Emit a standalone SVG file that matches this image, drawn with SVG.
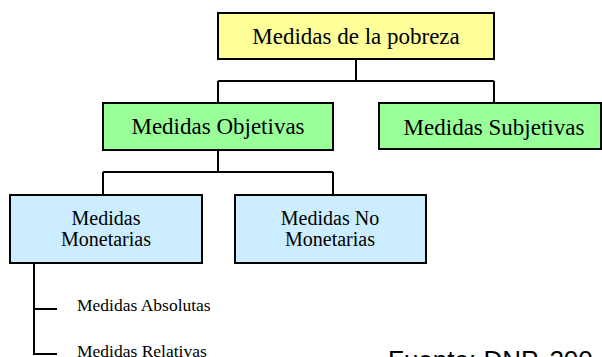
<svg xmlns="http://www.w3.org/2000/svg" width="602" height="357" viewBox="0 0 602 357">
<style>
.box{stroke:#000;stroke-width:2}
.yellow{fill:#FFFF99}
.green{fill:#99FF99}
.blue{fill:#CCECFF}
.lbl{font-family:"Liberation Serif","Times New Roman",serif;fill:#000;text-anchor:middle}
.big{font-size:23px}
.mid{font-size:20px}
.small{font-family:"Liberation Serif","Times New Roman",serif;font-size:17.5px;fill:#000}
.conn{fill:none;stroke:#000;stroke-width:2}
</style>
<rect width="602" height="357" fill="#fff"/>
<g id="connectors" class="conn">
<path d="M356 59V81M218 81H494M218 81V103M494 81V103"/>
<path d="M218 150V172M103 172H333M103 172V195M333 172V195"/>
<path d="M34 263V354H57M34 309H57"/>
</g>
<g id="pobreza">
<rect class="box yellow" x="218" y="13" width="276" height="46"/>
<text class="lbl big" x="356" y="44">Medidas de la pobreza</text>
</g>
<g id="objetivas">
<rect class="box green" x="103" y="103" width="230" height="47"/>
<text class="lbl big" x="218" y="134">Medidas Objetivas</text>
</g>
<g id="subjetivas">
<rect class="box green" x="379" y="103" width="222" height="46"/>
<text class="lbl big" x="494" y="135">Medidas Subjetivas</text>
</g>
<g id="monetarias">
<rect class="box blue" x="10" y="195" width="192" height="68"/>
<text class="lbl mid" x="106" y="225">Medidas</text>
<text class="lbl mid" x="106" y="246">Monetarias</text>
</g>
<g id="nomonetarias">
<rect class="box blue" x="235" y="195" width="191" height="68"/>
<text class="lbl mid" x="330" y="225">Medidas No</text>
<text class="lbl mid" x="330" y="246">Monetarias</text>
</g>
<g id="absolutas">
<text class="small" x="77" y="311">Medidas Absolutas</text>
</g>
<g id="relativas">
<text class="small" x="77" y="357">Medidas Relativas</text>
</g>
<g id="fuente">
<text x="388" y="369" font-family="Liberation Sans, Arial, sans-serif" font-size="26" fill="#000">Fuente: DNP, 200</text>
</g>
</svg>
